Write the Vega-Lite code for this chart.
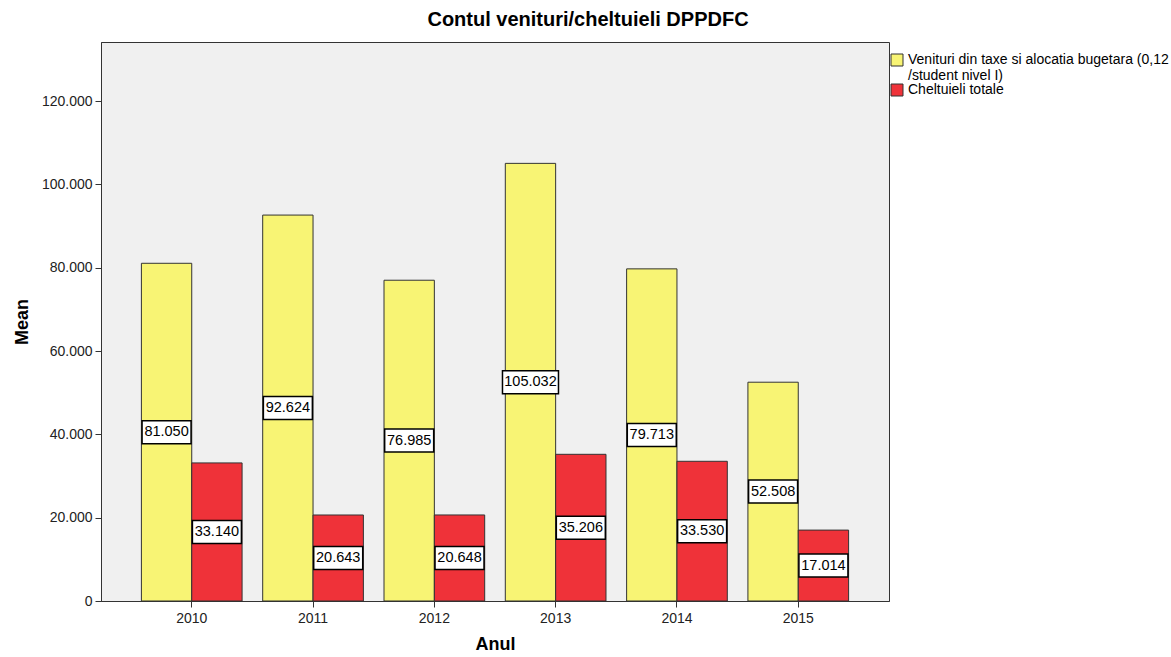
{
  "$schema": "https://vega.github.io/schema/vega-lite/v6.json",
  "width": 788,
  "height": 559,
  "autosize": {"type": "none"},
  "padding": {"left": 101, "top": 42, "right": 282, "bottom": 56},
  "background": "white",
  "config": {
    "locale": {"number": {"decimal": ",", "thousands": ".", "grouping": [3], "currency": ["", ""]}},
    "view": {"fill": "#f0f0f0", "stroke": "#333333", "strokeWidth": 1},
    "font": "Liberation Sans"
  },
  "title": {
    "text": "Contul venituri/cheltuieli DPPDFC",
    "fontSize": 20,
    "fontWeight": "bold",
    "font": "Liberation Sans",
    "color": "#000000",
    "dx": 93,
    "offset": 12
  },
  "data": {
    "values": [
      {"an": "2010", "serie": "Venituri din taxe si alocatia bugetara (0,12 /student nivel I)", "valoare": 81050},
      {"an": "2010", "serie": "Cheltuieli totale", "valoare": 33140},
      {"an": "2011", "serie": "Venituri din taxe si alocatia bugetara (0,12 /student nivel I)", "valoare": 92624},
      {"an": "2011", "serie": "Cheltuieli totale", "valoare": 20643},
      {"an": "2012", "serie": "Venituri din taxe si alocatia bugetara (0,12 /student nivel I)", "valoare": 76985},
      {"an": "2012", "serie": "Cheltuieli totale", "valoare": 20648},
      {"an": "2013", "serie": "Venituri din taxe si alocatia bugetara (0,12 /student nivel I)", "valoare": 105032},
      {"an": "2013", "serie": "Cheltuieli totale", "valoare": 35206},
      {"an": "2014", "serie": "Venituri din taxe si alocatia bugetara (0,12 /student nivel I)", "valoare": 79713},
      {"an": "2014", "serie": "Cheltuieli totale", "valoare": 33530},
      {"an": "2015", "serie": "Venituri din taxe si alocatia bugetara (0,12 /student nivel I)", "valoare": 52508},
      {"an": "2015", "serie": "Cheltuieli totale", "valoare": 17014}
    ]
  },
  "encoding": {
    "x": {
      "field": "an",
      "type": "nominal",
      "scale": {"paddingInner": 0.17, "paddingOuter": 0.333},
      "axis": {
        "title": "Anul",
        "titleFontSize": 18,
        "titleFontWeight": "bold",
        "titleColor": "#000000",
        "titlePadding": 10,
        "labelAngle": 0,
        "labelFontSize": 14,
        "labelColor": "#222222",
        "labelPadding": 4,
        "tickSize": 6,
        "tickColor": "#333333",
        "domainColor": "#333333"
      }
    },
    "xOffset": {
      "field": "serie",
      "type": "nominal",
      "sort": ["Venituri din taxe si alocatia bugetara (0,12 /student nivel I)", "Cheltuieli totale"],
      "scale": {"paddingInner": 0, "paddingOuter": 0}
    }
  },
  "layer": [
    {
      "mark": {"type": "bar", "stroke": "#333333", "strokeWidth": 1},
      "encoding": {
        "y": {
          "field": "valoare",
          "type": "quantitative",
          "scale": {"domain": [0, 134160], "nice": false},
          "axis": {
            "title": "Mean",
            "titleFontSize": 18,
            "titleFontWeight": "bold",
            "titleColor": "#000000",
            "titlePadding": 10,
            "values": [0, 20000, 40000, 60000, 80000, 100000, 120000],
            "format": ",.0f",
            "labelFontSize": 14,
            "labelColor": "#222222",
            "labelPadding": 3,
            "tickSize": 6,
            "tickColor": "#333333",
            "domainColor": "#333333",
            "grid": false
          }
        },
        "color": {
          "field": "serie",
          "type": "nominal",
          "scale": {
            "domain": ["Venituri din taxe si alocatia bugetara (0,12 /student nivel I)", "Cheltuieli totale"],
            "range": ["#f8f474", "#ef3239"]
          },
          "legend": {
            "title": null,
            "orient": "none",
            "legendX": 789,
            "legendY": 11,
            "padding": 0,
            "symbolType": "square",
            "symbolSize": 144,
            "symbolStrokeColor": "#333333",
            "symbolStrokeWidth": 1,
            "symbolOpacity": 1,
            "labelFontSize": 14,
            "labelColor": "#000000",
            "labelLimit": 400,
            "labelOffset": 4,
            "rowPadding": -8,
            "labelExpr": "datum.label == 'Cheltuieli totale' ? datum.label : ['Venituri din taxe si alocatia bugetara (0,12', '/student nivel I)']"
          }
        }
      }
    },
    {
      "mark": {"type": "point", "filled": true, "fill": "white", "stroke": "#000000", "strokeWidth": 1.5, "opacity": 1, "size": 4},
      "encoding": {
        "y": {"field": "valoare", "type": "quantitative", "scale": {"domain": [0, 268320], "nice": false}, "axis": null},
        "shape": {
          "condition": {"test": "datum.valoare >= 100000", "value": "M-28,-11.5H28V11.5H-28Z"},
          "value": "M-24.5,-11.5H24.5V11.5H-24.5Z"
        }
      }
    },
    {
      "mark": {"type": "text", "fontSize": 14.5, "color": "#000000"},
      "encoding": {
        "y": {"field": "valoare", "type": "quantitative", "scale": {"domain": [0, 268320], "nice": false}, "axis": null},
        "text": {"field": "valoare", "type": "quantitative", "format": ",.0f"}
      }
    }
  ],
  "resolve": {"scale": {"y": "independent"}}
}
